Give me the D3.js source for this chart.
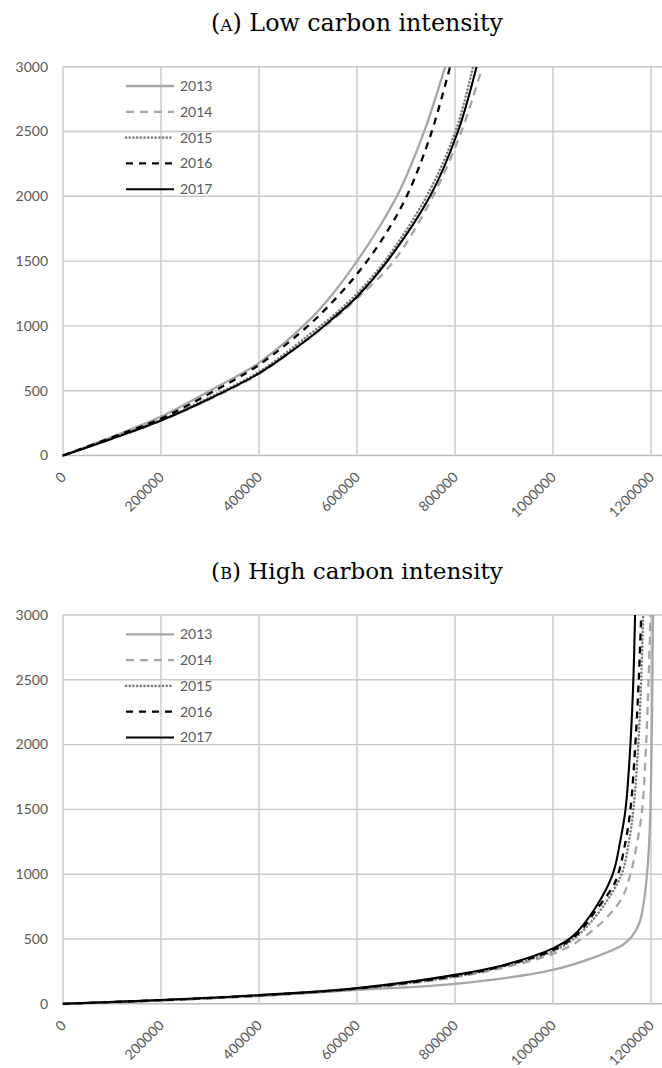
<!DOCTYPE html>
<html>
<head>
<meta charset="utf-8">
<title>Carbon intensity curves</title>
<script src="https://cdn.jsdelivr.net/npm/d3@7"></script>
<style>
  body { margin: 0; background: #fff; }
  .tick-label { font-family: Lato, "Open Sans", sans-serif; font-size: 14px; fill: #595959; }
  .title { font-family: "DejaVu Serif", "Liberation Serif", serif; font-size: 20px; fill: #000; }
</style>
</head>
<body>
<svg id="chart" width="662" height="1068"></svg>
<script>
// series names
var years = ['2013', '2014', '2015', '2016', '2017'];
var xTicks = [0, 200000, 400000, 600000, 800000, 1000000, 1200000];
var yTicks = [0, 500, 1000, 1500, 2000, 2500, 3000];
var panelLetters = ['a', 'b'];
var panelTitles = [' Low carbon intensity', ' High carbon intensity'];

// (A) low carbon intensity, [x, y]
var low2013 = [[0,0],[100000,145],[200000,300],[300000,500],[400000,715],[500000,1035],[550000,1245],[600000,1500],[650000,1790],[688000,2050],[739000,2520],[780000,3000]];
var low2014 = [[0,0],[100000,128],[200000,268],[300000,435],[400000,630],[500000,900],[550000,1045],[600000,1210],[675000,1500],[755000,2000],[813000,2500],[852000,2950]];
var low2015 = [[0,0],[100000,135],[200000,275],[300000,450],[400000,645],[500000,925],[550000,1075],[600000,1250],[657000,1500],[742000,2000],[801000,2500],[837000,3000]];
var low2016 = [[0,0],[100000,140],[200000,285],[300000,480],[400000,700],[500000,1000],[550000,1185],[600000,1400],[650000,1660],[700000,1990],[750000,2470],[790000,3000]];
var low2017 = [[0,0],[100000,130],[200000,270],[300000,440],[400000,634],[500000,900],[550000,1055],[600000,1225],[662000,1500],[749000,2000],[806000,2500],[844000,3000]];

// (B) high carbon intensity
var high2013 = [[0,0],[200000,25],[400000,60],[600000,108],[800000,154],[1000000,262],[1088000,364],[1142000,454],[1160000,515],[1176000,620],[1186000,800],[1193000,1050],[1197000,1300],[1200000,1700],[1202000,2200],[1204000,3000]];
var high2014 = [[0,0],[200000,26],[400000,62],[600000,112],[800000,205],[900000,280],[1000000,385],[1050000,480],[1108000,659],[1142000,826],[1158000,1000],[1172000,1250],[1182000,1500],[1190000,2000],[1195000,2500],[1199000,3000]];
var high2015 = [[0,0],[200000,27],[400000,63],[600000,115],[800000,210],[900000,290],[1000000,405],[1050000,525],[1100000,740],[1140000,1000],[1155000,1250],[1164000,1500],[1174000,2000],[1180000,2500],[1184000,3000]];
var high2016 = [[0,0],[200000,28],[400000,65],[600000,118],[800000,215],[900000,295],[1000000,415],[1050000,540],[1088000,723],[1122000,903],[1133000,1000],[1148000,1250],[1158000,1500],[1168000,2000],[1175000,2500],[1180000,3000]];
var high2017 = [[0,0],[200000,29],[400000,67],[600000,121],[800000,223],[900000,300],[1000000,428],[1040000,520],[1088000,749],[1122000,1000],[1137000,1250],[1148000,1500],[1158000,2000],[1164000,2500],[1167500,3000]];

var lowSeries = [low2013, low2014, low2015, low2016, low2017];
var highSeries = [high2013, high2014, high2015, high2016, high2017];

// line look for each year
var styles = [
  { color: '#a6a6a6', dash: null, width: 2.3, cap: 'butt' },
  { color: '#a6a6a6', dash: '8,6', width: 2.3, cap: 'butt' },
  { color: '#7f7f7f', dash: '0.1,3.6', width: 2.6, cap: 'round' },
  { color: '#000000', dash: '7,6', width: 2.3, cap: 'butt' },
  { color: '#000000', dash: null, width: 2.1, cap: 'butt' }
];

var svg = d3.select('#chart');
var W = 662;

function drawPanel(top, letter, title, series) {
  var g = svg.append('g').attr('transform', 'translate(0,' + top + ')');
  var x = d3.scaleLinear().domain([0, 1200000]).range([63, 651]);
  var y = d3.scaleLinear().domain([0, 3000]).range([455.5, 66.7]);

  var t = g.append('text')
    .attr('class', 'title')
    .attr('x', (x(0) + x(1200000)) / 2)
    .attr('y', 31)
    .attr('text-anchor', 'middle');
  t.append('tspan').text('(');
  t.append('tspan').style('font-variant', 'small-caps').text(letter);
  t.append('tspan').text(')' + title);
  // fit title width to the picture (about 292px wide)
  var len = t.node().getComputedTextLength();
  t.style('font-size', (20 * 292 / len) + 'px');

  // grid
  g.selectAll('.hgrid')
    .data(yTicks)
    .enter().append('line')
    .attr('x1', x(0)).attr('x2', W)
    .attr('y1', function(d){ return y(d); })
    .attr('y2', function(d){ return y(d); })
    .style('stroke', function(d){ return d === 0 ? '#bababa' : '#c8c8c8'; })
    .style('stroke-width', 1.4);

  g.selectAll('.vgrid')
    .data(xTicks)
    .enter().append('line')
    .attr('x1', function(d){ return x(d); })
    .attr('x2', function(d){ return x(d); })
    .attr('y1', y(3000)).attr('y2', y(0))
    .style('stroke', '#c8c8c8')
    .style('stroke-width', 1.4);

  g.selectAll('.ylab')
    .data(yTicks)
    .enter().append('text')
    .attr('class', 'tick-label')
    .attr('x', 48)
    .attr('y', function(d){ return y(d); })
    .attr('dy', '0.35em')
    .attr('text-anchor', 'end')
    .text(function(d){ return d; });

  g.selectAll('.xlab')
    .data(xTicks)
    .enter().append('text')
    .attr('class', 'tick-label')
    .attr('text-anchor', 'end')
    .attr('transform', function(d){ return 'translate(' + (x(d) + 4) + ',478) rotate(-45)'; })
    .text(function(d){ return d; });

  var line = d3.line()
    .x(function(d){ return x(d[0]); })
    .y(function(d){ return y(d[1]); })
    .curve(d3.curveCatmullRom.alpha(0.5));

  // clip to plot top
  var clipId = 'clip' + letter;
  g.append('clipPath').attr('id', clipId)
    .append('rect')
    .attr('x', x(0) - 2).attr('y', y(3000))
    .attr('width', W - x(0) + 2).attr('height', y(0) - y(3000) + 3);

  var lines = g.append('g').attr('clip-path', 'url(#' + clipId + ')');
  series.forEach(function(s, i){
    lines.append('path')
      .datum(s)
      .attr('d', line)
      .style('fill', 'none')
      .style('stroke', styles[i].color)
      .style('stroke-width', styles[i].width)
      .style('stroke-linecap', styles[i].cap)
      .style('stroke-dasharray', styles[i].dash);
  });

  // legend
  var leg = g.selectAll('.leg')
    .data(years)
    .enter().append('g')
    .attr('transform', function(d, i){ return 'translate(0,' + (86 + i * 25.8) + ')'; });
  leg.append('line')
    .attr('x1', 126).attr('x2', 174)
    .attr('y1', 0).attr('y2', 0)
    .style('stroke', function(d, i){ return styles[i].color; })
    .style('stroke-width', function(d, i){ return styles[i].width; })
    .style('stroke-linecap', function(d, i){ return styles[i].cap; })
    .style('stroke-dasharray', function(d, i){ return styles[i].dash; });
  leg.append('text')
    .attr('class', 'tick-label')
    .attr('x', 180)
    .attr('dy', '0.35em')
    .text(function(d){ return d; });
}

drawPanel(0, panelLetters[0], panelTitles[0], lowSeries);
drawPanel(548.3, panelLetters[1], panelTitles[1], highSeries);
</script>
</body>
</html>
